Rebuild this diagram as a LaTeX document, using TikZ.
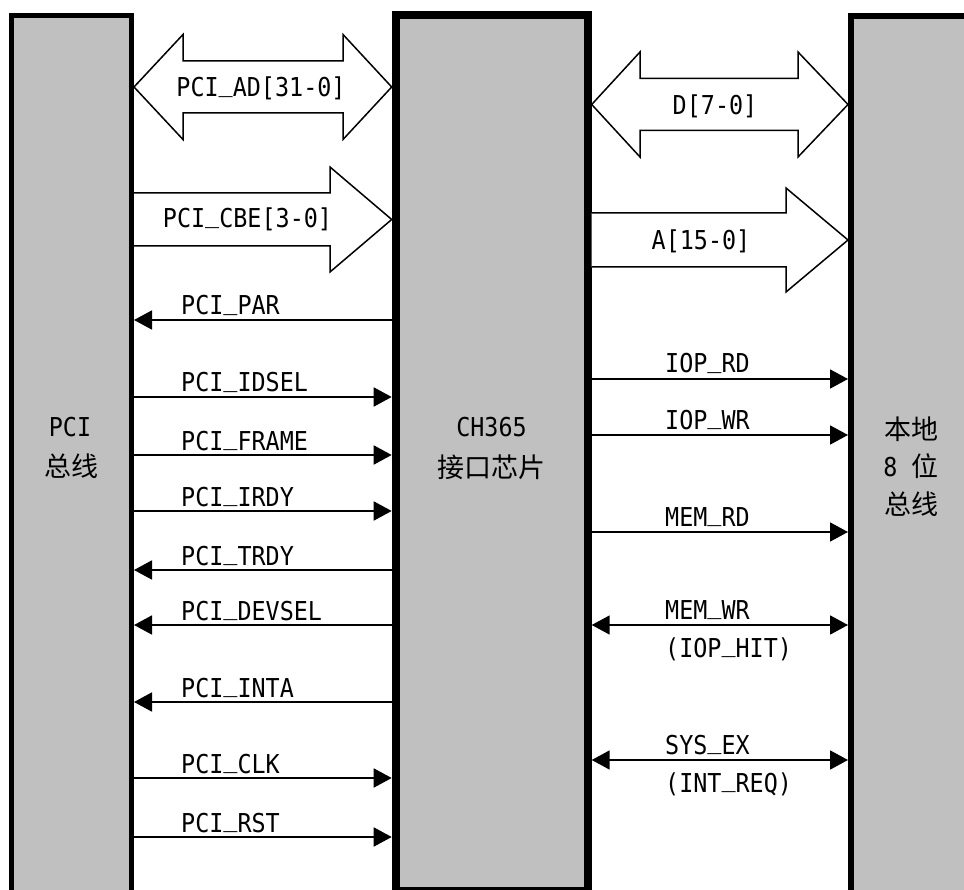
\documentclass[tikz,border=0pt]{standalone}
\usepackage{fontspec}
\newfontfamily\sigfont{DejaVu Sans Mono}[FakeStretch=0.9]
\newfontfamily\cjkfont{Noto Sans CJK SC}
\usetikzlibrary{arrows.meta, calc}
\definecolor{boxgray}{RGB}{192,192,192}
\newcommand{\usc}{\raisebox{0.22em}{\_}}

\begin{document}
\begin{tikzpicture}[
    x=1pt, y=-1pt,
    unit/.style={rectangle, draw=black, fill=boxgray, inner sep=0pt},
    sig/.style={line width=1.8pt, -{Triangle[length=18pt, width=19pt]}},
    bisig/.style={line width=1.8pt, {Triangle[length=18pt, width=19pt]}-{Triangle[length=18pt, width=19pt]}},
    bus/.style={draw=black, fill=white, line width=1.5pt, line join=miter},
    lbl/.style={font=\fontsize{26}{30}\sigfont, inner sep=0pt},
    hz/.style={font=\fontsize{27}{30}\cjkfont, inner sep=0pt}
]
    \useasboundingbox (0,0) rectangle (964,890);
    \clip (0,0) rectangle (964,890);

    % Units
    \node[unit, line width=5pt, minimum width=120pt, minimum height=884.5pt] (pcibus) at (71.5,457.75) {};
    \node[unit, line width=8pt, minimum width=192pt, minimum height=876pt] (chip) at (491.7,453) {};
    \node[unit, line width=6pt, minimum width=149pt, minimum height=884pt] (locbus) at (925.5,458) {};

    % Unit texts
    \node[lbl, anchor=base] (pcit) at (70,437) {PCI};
    \node[hz, anchor=base] (pcih) at (71.5,476) {总线};
    \node[lbl, anchor=base] (chipt) at (491.5,437) {CH365};
    \node[hz, anchor=base] (chiph) at (491.5,477) {接口芯片};
    \node[hz, anchor=base] (loch1) at (911,439) {本地};
    \node[hz, anchor=base] (loch2) at (911,476) {{\fontsize{26}{30}\sigfont 8 }位};
    \node[hz, anchor=base] (loch3) at (911,514) {总线};

    % Buses
    \draw[bus] (pcibus.east |- 0,87) -- (183,34.5) -- (183,61) -- (343,61) -- (343,34.5)
        -- (chip.west |- 0,87) -- (343,139.5) -- (343,113) -- (183,113) -- (183,139.5) -- cycle;
    \node[lbl, anchor=base] (ad) at (261,97) {PCI\usc AD[31-0]};
    \draw[bus] (pcibus.east |- 0,193) -- (330,193) -- (330,167) -- (chip.west |- 0,219.5)
        -- (330,272) -- (330,246) -- (pcibus.east |- 0,246);
    \node[lbl, anchor=base] (cbe) at (247.5,228) {PCI\usc CBE[3-0]};
    \draw[bus] (chip.east |- 0,104.5) -- (640,52) -- (640,78.5) -- (798,78.5) -- (798,52)
        -- (locbus.west |- 0,104.5) -- (798,157) -- (798,130.5) -- (640,130.5) -- (640,157) -- cycle;
    \node[lbl, anchor=base] (dat) at (715,115) {D[7-0]};
    \draw[bus] (chip.east |- 0,213) -- (786,213) -- (786,188) -- (locbus.west |- 0,240)
        -- (786,292) -- (786,267) -- (chip.east |- 0,267);
    \node[lbl, anchor=base] (adr) at (701,250) {A[15-0]};

    % PCI side signals
    \draw[sig] (chip.west |- 0,320) -- (pcibus.east |- 0,320);
    \node[lbl, anchor=base west] (par) at (181,315) {PCI\usc PAR};
    \draw[sig] (pcibus.east |- 0,397) -- (chip.west |- 0,397);
    \node[lbl, anchor=base west] (idsel) at (181,392) {PCI\usc IDSEL};
    \draw[sig] (pcibus.east |- 0,455) -- (chip.west |- 0,455);
    \node[lbl, anchor=base west] (frame) at (181,450) {PCI\usc FRAME};
    \draw[sig] (pcibus.east |- 0,511) -- (chip.west |- 0,511);
    \node[lbl, anchor=base west] (irdy) at (181,506) {PCI\usc IRDY};
    \draw[sig] (chip.west |- 0,570) -- (pcibus.east |- 0,570);
    \node[lbl, anchor=base west] (trdy) at (181,565) {PCI\usc TRDY};
    \draw[sig] (chip.west |- 0,625) -- (pcibus.east |- 0,625);
    \node[lbl, anchor=base west] (devsel) at (181,620) {PCI\usc DEVSEL};
    \draw[sig] (chip.west |- 0,702) -- (pcibus.east |- 0,702);
    \node[lbl, anchor=base west] (inta) at (181,697) {PCI\usc INTA};
    \draw[sig] (pcibus.east |- 0,778) -- (chip.west |- 0,778);
    \node[lbl, anchor=base west] (clk) at (181,773) {PCI\usc CLK};
    \draw[sig] (pcibus.east |- 0,837) -- (chip.west |- 0,837);
    \node[lbl, anchor=base west] (rst) at (181,832) {PCI\usc RST};

    % Local side signals
    \draw[sig] (chip.east |- 0,379) -- (locbus.west |- 0,379);
    \node[lbl, anchor=base west] (iord) at (665,373) {IOP\usc RD};
    \draw[sig] (chip.east |- 0,435) -- (locbus.west |- 0,435);
    \node[lbl, anchor=base west] (iowr) at (665,429) {IOP\usc WR};
    \draw[sig] (chip.east |- 0,532) -- (locbus.west |- 0,532);
    \node[lbl, anchor=base west] (memrd) at (665,526) {MEM\usc RD};
    \draw[bisig] (chip.east |- 0,625) -- (locbus.west |- 0,625);
    \node[lbl, anchor=base west] (memwr) at (665,619) {MEM\usc WR};
    \node[lbl, anchor=base west] (iohit) at (665,657) {(IOP\usc HIT)};
    \draw[bisig] (chip.east |- 0,760) -- (locbus.west |- 0,760);
    \node[lbl, anchor=base west] (sysex) at (665,754) {SYS\usc EX};
    \node[lbl, anchor=base west] (intreq) at (665,792) {(INT\usc REQ)};

\end{tikzpicture}
\end{document}
